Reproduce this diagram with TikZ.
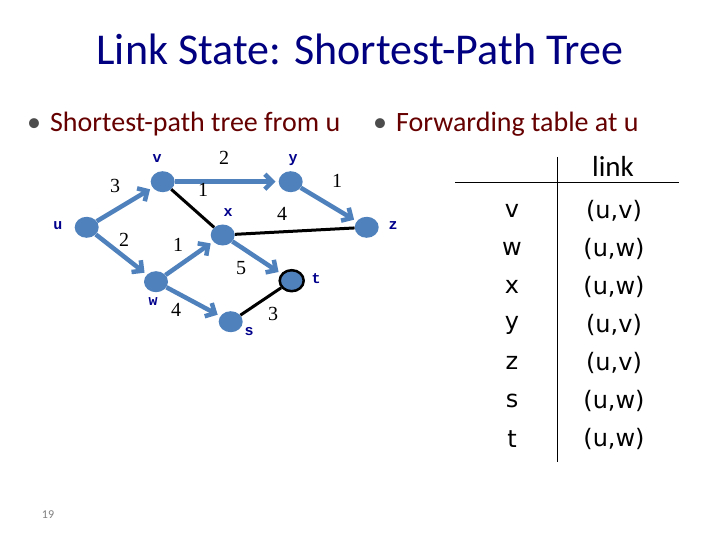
\documentclass[tikz,border=0pt]{standalone}
\usepackage{fontspec}
\setmainfont{Carlito}
\newfontfamily\codefont{Liberation Mono}
\newfontfamily\tblfont{DejaVu Sans}
\newfontfamily\weightfont{Liberation Serif}
\usepackage{tikz}
\usetikzlibrary{positioning,arrows.meta,shapes.geometric}

\definecolor{titleblue}{RGB}{0,0,128}
\definecolor{bulletred}{RGB}{102,0,0}
\definecolor{edgeblue}{RGB}{79,129,189}
\definecolor{labelblue}{RGB}{0,0,140}

\begin{document}
\begin{tikzpicture}[
x=1pt,y=1pt,
>={Straight Barb[length=7.5pt,width=15pt]},
vertex/.style={
ellipse,
fill=edgeblue,
minimum width=24pt,
minimum height=21pt,
inner sep=0pt
},
vname/.style={
font=\codefont\bfseries\fontsize{15}{15}\selectfont,
text=labelblue,
inner sep=1pt
},
weight/.style={
font=\weightfont\fontsize{20}{20}\selectfont,
inner sep=0pt
},
treeedge/.style={
->,
draw=edgeblue,
line width=4.5pt,
shorten >=3pt
},
otheredge/.style={
draw=black,
line width=3pt
},
entry/.style={
font=\tblfont\fontsize{24}{24}\selectfont,
inner sep=0pt
}
]

\fill[white] (0,0) rectangle (720,-540);

%%%%%%%%%%%%%%%%%%%%%%%%%%%%%%%%%%%%
% Title and bullets
%%%%%%%%%%%%%%%%%%%%%%%%%%%%%%%%%%%%

\node[anchor=base,text=titleblue,font=\fontsize{44}{44}\selectfont] (title)
at (360,-65) {Link State: Shortest-Path Tree};

\node[anchor=base west,text=bulletred,font=\fontsize{28}{28}\selectfont,inner sep=0pt] (treehead)
at (27,-132) {\textcolor{black!70}{\textbullet}\hspace{9pt}Shortest-path tree from u};

\node[anchor=base west,text=bulletred,font=\fontsize{28}{28}\selectfont,inner sep=0pt] (tablehead)
at (373,-132) {\textcolor{black!70}{\textbullet}\hspace{9pt}Forwarding table at u};

%%%%%%%%%%%%%%%%%%%%%%%%%%%%%%%%%%%%
% Vertices
%%%%%%%%%%%%%%%%%%%%%%%%%%%%%%%%%%%%

\node[vertex] (u) at (86.7,-227.3) {};
\node[vertex] (v) at (162.7,-181.7) {};
\node[vertex] (y) at (290.7,-181.7) {};
\node[vertex] (x) at (222.7,-235) {};
\node[vertex] (z) at (366.7,-227.3) {};
\node[vertex] (w) at (156,-281.7) {};
\node[vertex,draw=black,line width=2.5pt] (t) at (291.7,-280.7) {};
\node[vertex] (s) at (230.7,-321.7) {};

\node[vname] (lu) at (58,-226) {u};
\node[vname] (lv) at (157,-159) {v};
\node[vname] (ly) at (293,-160) {y};
\node[vname] (lx) at (228,-213) {x};
\node[vname] (lz) at (393,-226) {z};
\node[vname] (lt) at (316,-279) {t};
\node[vname] (lw) at (153,-302) {w};
\node[vname] (ls) at (249,-332) {s};

%%%%%%%%%%%%%%%%%%%%%%%%%%%%%%%%%%%%
% Edges
%%%%%%%%%%%%%%%%%%%%%%%%%%%%%%%%%%%%

\draw[otheredge] (v)--(x);
\draw[otheredge] (x)--(z);
\draw[otheredge] (s)--(t);

\draw[treeedge] (u)--(v);
\draw[treeedge] (u)--(w);
\draw[treeedge] (v)--(y);
\draw[treeedge] (y)--(z);
\draw[treeedge] (w)--(x);
\draw[treeedge] (x)--(t);
\draw[treeedge] (w)--(s);

\node[weight] (luv) at (115,-186) {3};
\node[weight] (lvy) at (224,-158) {2};
\node[weight] (lyz) at (337,-181) {1};
\node[weight] (lvx) at (203,-190) {1};
\node[weight] (lxz) at (282,-214) {4};
\node[weight] (luw) at (124,-240) {2};
\node[weight] (lwx) at (178,-245) {1};
\node[weight] (lxt) at (241,-268) {5};
\node[weight] (lws) at (176,-310) {4};
\node[weight] (lst) at (273,-314) {3};

%%%%%%%%%%%%%%%%%%%%%%%%%%%%%%%%%%%%
% Forwarding table
%%%%%%%%%%%%%%%%%%%%%%%%%%%%%%%%%%%%

\coordinate (rulel) at (455,-183);
\coordinate (ruler) at (679,-183);
\coordinate (colt) at (557,-157);
\coordinate (colb) at (557,-462);

\draw[line width=1pt] (rulel)--(ruler);
\draw[line width=1pt] (colt)--(colb);

\node[font=\fontsize{29}{29}\selectfont] (linkhead) at (613,-166) {link};

\foreach \dst/\lnk [count=\i] in {v/{(u,v)},w/{(u,w)},x/{(u,w)},y/{(u,v)},z/{(u,v)},s/{(u,w)},t/{(u,w)}}{
\node[entry] (dst-\i) at (512,-173-38*\i) {\dst};
\node[entry] (lnk-\i) at (614,-173-38*\i) {\lnk};
}

\node[text=black!50,font=\fontsize{12}{12}\selectfont] (pagenum) at (48,-515) {19};

\end{tikzpicture}
\end{document}
